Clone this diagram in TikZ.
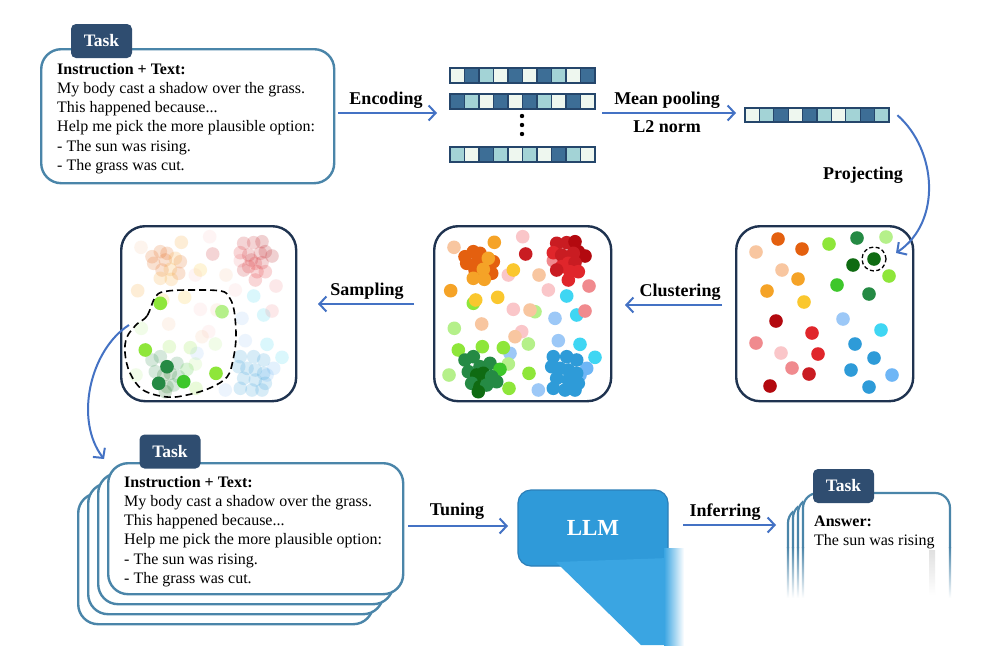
\documentclass[tikz,border=0pt]{standalone}
\usepackage{fontspec}
\setmainfont{Liberation Serif}
\usetikzlibrary{arrows.meta}
\definecolor{arrblue}{HTML}{4472C4}
\definecolor{tborder}{HTML}{4A85A9}
\definecolor{tabnavy}{HTML}{2F4D70}
\definecolor{cnavy}{HTML}{1F3350}
\definecolor{vD}{HTML}{3D6E96}
\definecolor{vM}{HTML}{A3D3D6}
\definecolor{vL}{HTML}{EEF7EF}
\definecolor{vB}{HTML}{25466B}
\definecolor{llmblue}{HTML}{2F9AD9}
\definecolor{llmlight}{HTML}{3AA5E2}
\definecolor{llmedge}{HTML}{2C7FB8}
\definecolor{dorange}{HTML}{E4600F}
\definecolor{orange}{HTML}{F5A327}
\definecolor{peach}{HTML}{F8C6A0}
\definecolor{gold}{HTML}{FAC72E}
\definecolor{lpink}{HTML}{FAC6C9}
\definecolor{pink}{HTML}{F08A8E}
\definecolor{red}{HTML}{E0262B}
\definecolor{dred}{HTML}{B3090F}
\definecolor{mred}{HTML}{C91C22}
\definecolor{cyan}{HTML}{3FD6F3}
\definecolor{lblue}{HTML}{9CC8F7}
\definecolor{mblue}{HTML}{6EB6F6}
\definecolor{blue}{HTML}{2E9BD8}
\definecolor{lime}{HTML}{8EE63A}
\definecolor{llime}{HTML}{B5F08A}
\definecolor{green}{HTML}{3EC72B}
\definecolor{mgreen}{HTML}{258A44}
\definecolor{dgreen}{HTML}{0F6B12}
\newcommand\cellbar[5]{%
  \foreach \cc [count=\ii from 0] in {#5} {\filldraw[fill=\cc, draw=vB, line width=1.2pt] ({#1+\ii*#3},#2) rectangle ++(#3,#4);}}
\newcommand\middots{%
  \foreach \px/\py/\pc in {454/247.3/peach, 494.3/242.3/orange, 522.7/236.7/lpink, 525.7/254/mred, 508.3/275/lpink, 513.3/270/gold, 539/275/peach, 450.7/290.7/orange, 473.3/303.3/lime, 475.7/300/gold, 497.7/297.3/gold, 548.3/290/lpink, 566.7/296/cyan, 589/286/pink, 513.3/309.3/lpink, 535/311.7/llime, 530/310/peach, 555/318.3/lblue, 576.7/315/cyan, 585/311/pink, 454.3/328.3/llime, 481.7/324/peach, 521.7/331.7/lpink, 515/336.7/peach, 528.3/344/llime, 558.3/340.7/lblue, 580/344.3/cyan, 510/353.3/lblue, 458.3/350/lime, 482.3/346.7/lime, 503.3/347.7/lime, 595/357.3/cyan, 449/375/llime, 508.3/364/llime, 529/373.3/lime, 509/388.3/lime, 538.3/390/lblue, 586.7/368.3/mblue, 580/375/mblue, 553.3/260.7/pink,
  473.3/251.7/dorange, 466.7/263.3/dorange, 478.3/260/dorange, 493.3/261.7/dorange, 475/270/dorange, 491.7/273.3/dorange, 465/256.7/dorange, 480/253.3/dorange, 488.3/258.3/orange, 473.3/278.3/orange, 484.3/279.3/orange, 483.3/269.3/orange,
  556.7/243.3/mred, 566.7/242.7/mred, 575/241.7/dred, 578.3/251.7/dred, 585/256/dred, 553.3/252.7/red, 561.7/255/mred, 573.3/253.3/mred, 564.3/260/mred, 568.3/263.3/red, 575/262.7/mred, 561.7/266.7/red, 570/271.7/red, 578.3/271.7/red, 568.3/280/red, 556.7/270/mred,
  465/360/mgreen, 473.3/356.7/mgreen, 480/366.7/mgreen, 490/363.3/mgreen, 500/369.3/green, 468.3/371.7/mgreen, 476.7/375/dgreen, 483.3/373.3/dgreen, 491.7/376.7/mgreen, 471.7/383.3/mgreen, 480/386.7/dgreen, 486.7/385/mgreen, 496.7/381.7/mgreen, 478.3/391.7/dgreen,
  553.3/356.7/blue, 566.7/356.7/blue, 576.7/360/blue, 551.7/366.7/blue, 560/368.3/blue, 568.3/370/blue, 576.7/373.3/blue, 556.7/378.3/blue, 568.3/380/blue, 578.3/383.3/blue, 553.3/388.3/blue, 565/390/blue, 575/390/blue}
  {\fill[\pc] (\px,\py) circle (6.8pt);}}
\tikzset{
  arr/.style={draw=arrblue, line width=2pt, -{Straight Barb[length=7pt,width=15pt,line width=2pt]}},
  lbl/.style={font=\fontsize{18}{20}\selectfont\bfseries, inner sep=0},
  tbox/.style={draw=tborder, line width=2.4pt, fill=white, rounded corners=20pt, inner sep=0, anchor=north west},
  tab/.style={fill=tabnavy, rounded corners=5pt, text=white, font=\fontsize{17.5}{20}\selectfont\bfseries, inner sep=0, minimum width=61pt, minimum height=34pt},
  cbox/.style={draw=cnavy, line width=2.4pt, rounded corners=24pt, inner sep=0, anchor=north west, minimum height=175pt},
  body/.style={font=\fontsize{16}{19.2}\selectfont, align=left, inner sep=0, anchor=north west},
}
\begin{document}
\begin{tikzpicture}[x=1pt,y=-1pt]
\useasboundingbox[fill=white] (0,0) rectangle (1000,645);

% ---- top-left task
\node[tbox, minimum width=293pt, minimum height=134pt] (task1) at (40,48) {};
\node[tab] (tab1) at (101.5,41) {Task};
\node[body] (txt1) at (57,63) {\textbf{Instruction + Text:}\\My body cast a shadow over the grass.\\This happened because...\\Help me pick the more plausible option:\\- The sun was rising.\\- The grass was cut.};

% ---- vectors
\node[inner sep=0, minimum width=145pt, minimum height=15pt, anchor=north west] (bar1) at (450,68) {};
\node[inner sep=0, minimum width=145pt, minimum height=15pt, anchor=north west] (bar2) at (450,94) {};
\node[inner sep=0, minimum width=145pt, minimum height=15pt, anchor=north west] (bar4) at (450,147) {};
\cellbar{450}{68}{14.5}{15}{vL,vD,vM,vL,vD,vL,vD,vM,vL,vD}
\cellbar{450}{94}{14.5}{15}{vD,vM,vL,vD,vL,vD,vM,vL,vD,vL}
\cellbar{450}{147}{14.5}{15}{vM,vL,vD,vM,vL,vM,vL,vD,vM,vL}
\foreach \yy in {116,125,134} {\fill (522,\yy) circle (2.2pt);}
\node[inner sep=0, minimum width=144pt, minimum height=14pt, anchor=north west] (pool) at (745,108) {};
\cellbar{745}{108}{14.4}{14}{vL,vM,vD,vL,vD,vM,vL,vM,vD,vM}

% ---- encoding / pooling arrows
\coordinate (encS) at (338,113);
\coordinate (encE) at (437,113);
\draw[arr] (encS) -- (encE);
\node[lbl] (lenc) at (386,100) {Encoding};
\coordinate (mpS) at (602,113);
\coordinate (mpE) at (736,113);
\draw[arr] (mpS) -- (mpE);
\node[lbl] (lmp) at (667,100) {Mean pooling};
\node[lbl] (ll2) at (667,127) {L2 norm};

% ---- cluster boxes
\node[cbox, minimum width=177pt] (proj) at (735,225) {};
\node[cbox, minimum width=177pt] (clus) at (433,225) {};
\node[cbox, minimum width=175pt] (samp) at (120,225) {};

% projecting arrow
\coordinate (prE) at (896,253);
\draw[arr] ([xshift=8pt]pool.east) .. controls (937,150) and (942,222) .. (prE);
\node[lbl] (lproj) at (863,175) {Projecting};

% right box dots
\foreach \px/\py/\pc in {778/239/dorange, 756/252/peach, 802/249/dorange, 829/244/lime, 857/238/mgreen, 886/237/llime, 874/259/dgreen, 853/265/dgreen, 889/276/lime, 782/270/peach, 798/279/orange, 767/291/orange, 837/285/green, 869/294/mgreen, 804/302/gold, 776/321/dred, 843/319/lblue, 881/330/cyan, 812/333/red, 756/343/pink, 855/344/blue, 781/353/lpink, 818/354/red, 874/358/blue, 792/368/pink, 809/374/mred, 851/370/blue, 892/375/mblue, 770/386/dred, 869/387/blue}
  {\fill[\pc] (\px,\py) circle (6.8pt);}
\draw[dashed, line width=1.3pt, dash pattern=on 4pt off 2.5pt] (874,259) circle (12pt);

% middle box dots
\middots

% left box: faded dots + sampled
\begin{scope}[shift={(-313,0)}, opacity=0.19]
\middots
\end{scope}
\foreach \px/\py/\pc in {160.3/303.3/lime, 222/311.7/llime, 145.3/350/lime, 167/366.7/mgreen, 158.7/383.3/mgreen, 183.7/381.7/green, 216/373.3/lime}
  {\fill[\pc] (\px,\py) circle (6.8pt);}
\draw[line width=1.6pt, dash pattern=on 7pt off 4pt] plot[smooth cycle, tension=0.6] coordinates {(156,296) (147,316) (137,324) (127,337) (125,353) (130,373) (143,390) (167,397) (187,395) (210,388) (227,377) (233,360) (236,337) (234,310) (229,297) (221,291) (193,290) (168,291)};

% clustering / sampling arrows
\coordinate (clS) at (722,305);
\coordinate (clE) at (625,305);
\draw[arr] (clS) -- (clE);
\node[lbl] (lclu) at (680,292) {Clustering};
\coordinate (saS) at (414,304);
\coordinate (saE) at (318,304);
\draw[arr] (saS) -- (saE);
\node[lbl] (lsam) at (367,291) {Sampling};

% ---- bottom stacked tasks
\node[tbox, minimum width=295pt, minimum height=131pt] (t2c) at (77,492) {};
\node[tbox, minimum width=295pt, minimum height=131pt] (t2b) at (87,482) {};
\node[tbox, minimum width=295pt, minimum height=131pt] (t2a) at (97,472) {};
\node[tbox, minimum width=295pt, minimum height=131pt] (task2) at (107,462) {};
\node[tab] (tab2) at (170,451.5) {Task};
\node[body] (txt2) at (124,476) {\textbf{Instruction + Text:}\\My body cast a shadow over the grass.\\This happened because...\\Help me pick the more plausible option:\\- The sun was rising.\\- The grass was cut.};

% sampling curve to tasks
\coordinate (scS) at (129,325);
\coordinate (scE) at (104,459);
\draw[arr] (scS) .. controls (90,350) and (74,420) .. (scE);

% tuning
\coordinate (tuS) at (408,526);
\coordinate (tuE) at (508,526);
\draw[arr] (tuS) -- (tuE);
\node[lbl] (ltun) at (457,511) {Tuning};

% LLM
\node[draw=llmedge, fill=llmblue, line width=1.2pt, rounded corners=13pt, minimum width=150pt, minimum height=76pt, text=white, font=\fontsize{23}{26}\selectfont\bfseries] (llm) at (593,528) {LLM};
\fill[llmlight] (556,562) -- (668.6,558) -- (668.6,645) -- (641,645) -- cycle;
\shade[left color=llmlight, right color=white] (664,548) rectangle (684,645);

% inferring
\coordinate (inS) at (683,525);
\coordinate (inE) at (776,525);
\draw[arr] (inS) -- (inE);
\node[lbl] (linf) at (725,512) {Inferring};

% ---- answer boxes
\foreach \k in {3,2,1,0} {
  \fill[white] ({803-5*\k},600) -- ({803-5*\k},{493+5*\k}) [rounded corners=15pt] -- ({803-5*\k},{493+5*\k}) -- ({950-5*\k},{493+5*\k}) [rounded corners=0pt] -- ({950-5*\k},600) -- cycle;
  \draw[draw=tborder, line width=2.2pt, rounded corners=15pt] ({803-5*\k},548) -- ({803-5*\k},{493+5*\k}) -- ({950-5*\k},{493+5*\k}) -- ({950-5*\k},548);
}
\foreach \xx in {788,793,798,803,950} {\shade[top color=tborder, bottom color=white] (\xx-1.1,547) rectangle (\xx+1.1,598);}
\shade[top color=black!12, bottom color=white] (929,550) rectangle (935,595);
\coordinate (ans) at (803,493);
\node[tab] (tab3) at (843.5,486) {Task};
\node[body] (txt3) at (814,516) {\textbf{Answer:}\\The sun was rising};
\end{tikzpicture}
\end{document}
